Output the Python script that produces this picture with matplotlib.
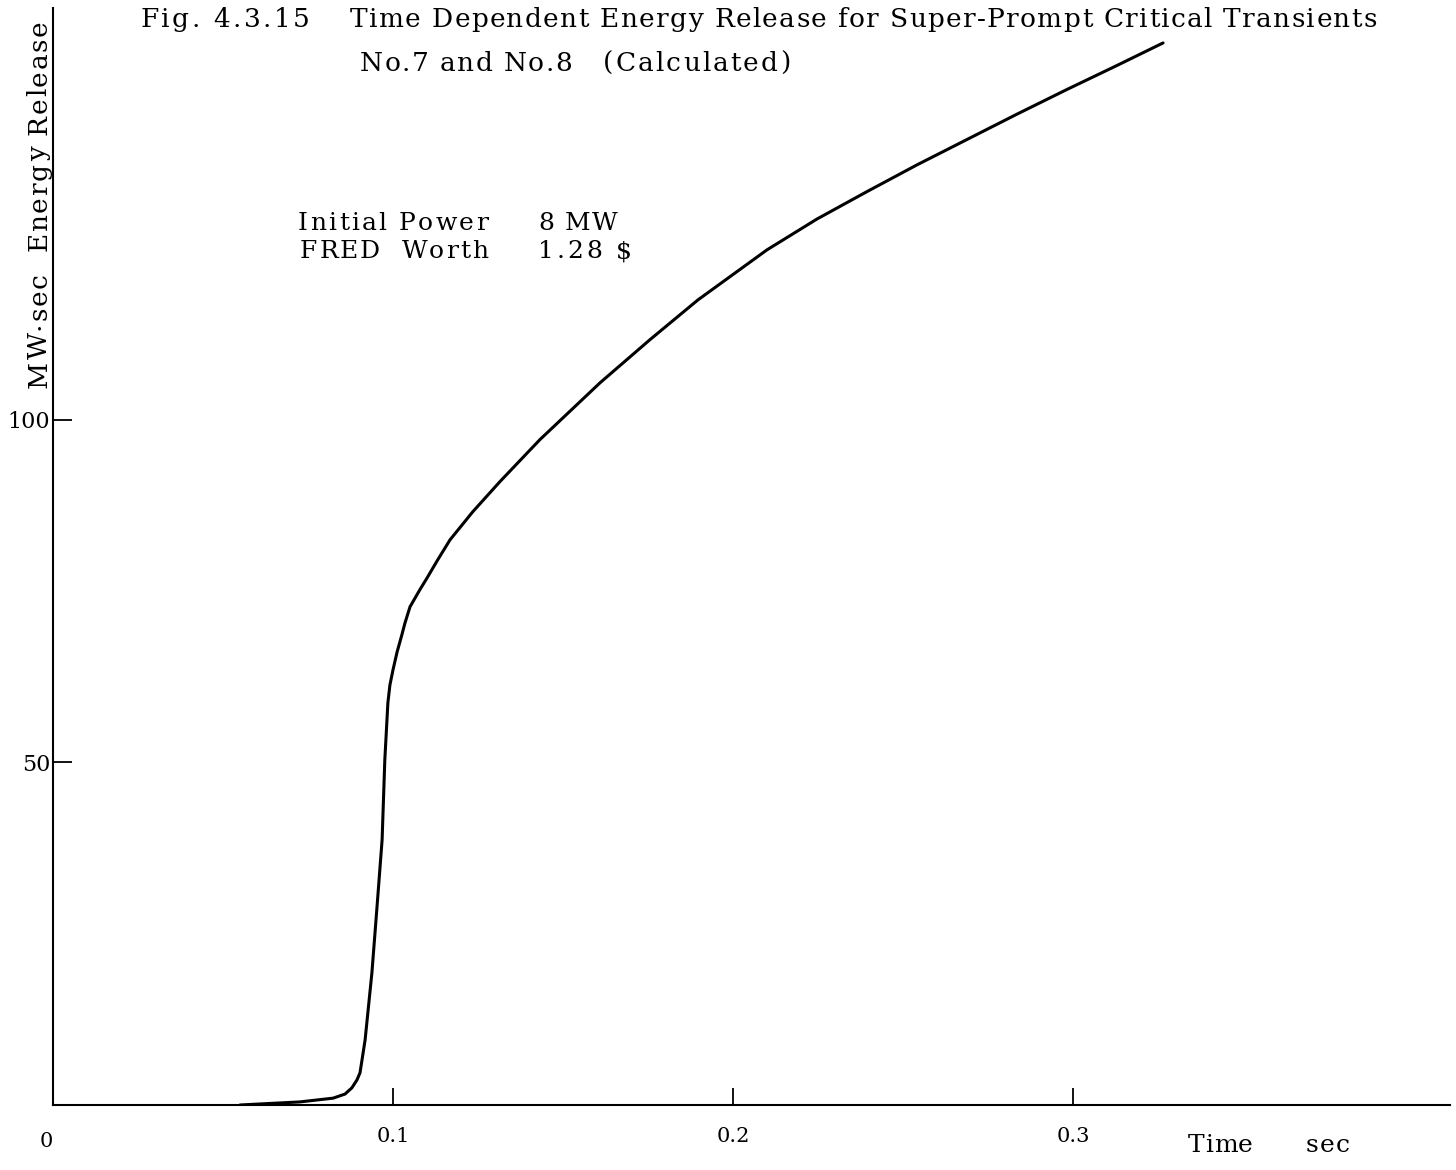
"""Energy release vs time for the super-prompt critical transients."""
import numpy as np
import matplotlib
matplotlib.use("Agg")
import matplotlib.pyplot as plt
from matplotlib.font_manager import FontProperties, findfont, get_font

# curve (time in sec, energy in MW.sec)
time_s = [0.0550, 0.0726, 0.0824, 0.0859, 0.0879, 0.0894, 0.0903, 0.0909,
          0.0918, 0.0938, 0.0953, 0.0968, 0.0976, 0.0985, 0.0991, 0.1000,
          0.1012, 0.1026, 0.1035, 0.1050, 0.1079, 0.1100, 0.1132, 0.1168,
          0.1235, 0.1315, 0.1432, 0.1609, 0.1756, 0.1897, 0.2100,
          0.2247, 0.2394, 0.2541, 0.2688, 0.2835, 0.2982, 0.3129, 0.3265]
energy = [0.0, 0.45, 1.0, 1.6, 2.5, 3.65, 4.7, 6.6,
          9.5, 19.3, 28.9, 38.7, 50.4, 58.7, 61.3, 63.5,
          66.1, 68.6, 70.3, 72.7, 75.2, 76.9, 79.6, 82.5,
          86.6, 91.0, 97.1, 105.4, 111.7, 117.5, 124.8,
          129.3, 133.3, 137.2, 140.9, 144.6, 148.2, 151.7, 155.0]

x_ticks = [0.1, 0.2, 0.3]
x_tick_labels = ["0.1", "0.2", "0.3"]
y_ticks = [50, 100]
y_tick_labels = ["50", "100"]

FONT = "DejaVu Serif"
W, H = 1456, 1170
DPI = 100


def fx(px):
    return px / W


def fy(py):
    return 1 - py / H


def spaced(fig, s, start, end, across, size, vertical=False):
    """Typewriter-style text: letters spread evenly so the string runs
    from pixel `start` to `end` (x, or y upwards when vertical)."""
    prop = FontProperties(family=FONT, size=size)
    font = get_font(findfont(prop))
    font.set_size(size, DPI)
    adv = [font.load_char(ord(c)).linearHoriAdvance / 65536 for c in s]
    span = abs(end - start)
    track = (span - sum(adv)) / max(len(s) - 1, 1)
    cap = 0.729 * size * DPI / 72
    pos = 0.0
    for c, a in zip(s, adv):
        if c != " ":
            if vertical:
                fig.text(fx(across + cap / 2), fy(start - pos), c,
                         family=FONT, fontsize=size, rotation=90,
                         rotation_mode="anchor", ha="left", va="baseline")
            else:
                fig.text(fx(start + pos), fy(across + cap / 2), c,
                         family=FONT, fontsize=size,
                         ha="left", va="baseline")
        pos += a + track


fig = plt.figure(figsize=(W / DPI, H / DPI), dpi=DPI)
ax = fig.add_axes([fx(53), fy(1105), fx(1450) - fx(53), fy(8) - fy(1105)])

ax.plot(time_s, energy, color="black", linewidth=2.2,
        solid_capstyle="round", solid_joinstyle="round")

ax.set_xlim(0, 0.4109)
ax.set_ylim(0, 160.1)
for side in ("top", "right"):
    ax.spines[side].set_visible(False)
for side in ("left", "bottom"):
    ax.spines[side].set_linewidth(1.5)

ax.set_xticks(x_ticks)
ax.set_xticklabels(x_tick_labels, family=FONT, fontsize=15)
ax.set_yticks(y_ticks)
ax.set_yticklabels(y_tick_labels, family=FONT, fontsize=16)
ax.tick_params(axis="x", direction="in", length=12, width=1.3, pad=16)
ax.tick_params(axis="y", direction="in", length=14, width=1.3, pad=2)
ax.annotate("0", xy=(0, 0), xytext=(-5, -26), textcoords="offset points",
            family=FONT, fontsize=15, ha="center", va="center")

# heading, two lines
spaced(fig, "Fig. 4.3.15", 140, 310, 17, 19)
spaced(fig, "Time Dependent Energy Release for Super-Prompt Critical Transients",
       350, 1377, 17, 19)
spaced(fig, "No.7 and No.8", 360, 572, 61, 19)
spaced(fig, "(Calculated)", 603, 790, 61, 19)

# run parameters
spaced(fig, "Initial Power", 298, 488, 221, 18)
spaced(fig, "8 MW", 538, 618, 221, 18)
spaced(fig, "FRED  Worth", 300, 488, 249, 18)
spaced(fig, "1.28 $", 538, 632, 249, 18)

# axis titles
spaced(fig, "MW·sec  Energy Release", 388, 20, 37, 19, vertical=True)
spaced(fig, "Time", 1188, 1253, 1143, 18)
spaced(fig, "sec", 1306, 1350, 1143, 18)

fig.savefig("out.png", dpi=DPI)
